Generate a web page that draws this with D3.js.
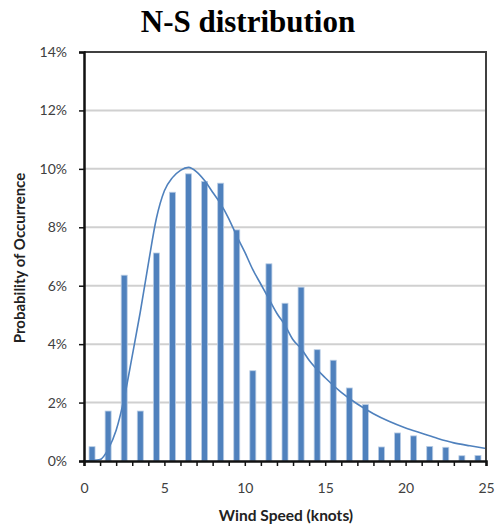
<!DOCTYPE html>
<html><head><meta charset="utf-8">
<script src="https://cdn.jsdelivr.net/npm/d3@7"></script>
<style>body{margin:0;background:#fff;}</style>
</head><body>
<svg id="chart" width="496" height="529"></svg>
<script>
// Bar data: wind speed bins (centre of each 1-knot bin) and probability (%)
const binCenters = [0.5,1.5,2.5,3.5,4.5,5.5,6.5,7.5,8.5,9.5,10.5,11.5,12.5,13.5,14.5,15.5,16.5,17.5,18.5,19.5,20.5,21.5,22.5,23.5,24.5];
const probabilities = [0.49,1.71,6.36,1.71,7.12,9.2,9.83,9.57,9.51,7.91,3.09,6.75,5.4,5.95,3.81,3.45,2.5,1.93,0.48,0.96,0.86,0.5,0.47,0.18,0.19];
// Fitted curve
const curveX = [0,1,1.5,2,2.5,3,3.5,4,4.5,5,5.5,6,6.5,7,7.5,8,8.5,9,9.5,10,10.5,11,11.5,12,12.5,13,13.5,14,15,16,17,18,19,20,21,22,23,24,25];
const curveY = [0,0.05,0.4,1.05,2.15,3.6,5.1,6.75,8.3,9.25,9.7,9.95,10.05,9.9,9.6,9.2,8.8,8.3,7.7,7.15,6.55,6.05,5.55,5.05,4.65,4.15,3.85,3.45,2.85,2.35,1.95,1.62,1.35,1.13,0.95,0.77,0.62,0.52,0.43];
const xTicks = [0,5,10,15,20,25];
const yTicks = [0,2,4,6,8,10,12,14];
const titleText = "N-S distribution";
const xTitle = "Wind Speed (knots)";
const yTitle = "Probability of Occurrence";

const svg = d3.select("#chart");
const L = 84, R = 486, T = 52, B = 461;
const x = d3.scaleLinear().domain([0,25]).range([L,R]);
const y = d3.scaleLinear().domain([0,14]).range([B,T]);
const blue = "#4f81bd";
const labelFont = "Lato, 'Open Sans', sans-serif";

svg.append("text").attr("x",248).attr("y",32).attr("text-anchor","middle")
  .attr("font-family","'Liberation Serif','DejaVu Serif',serif").attr("font-weight","bold")
  .attr("font-size",31).attr("fill","#000").text(titleText);

// gridlines
svg.append("g").selectAll("line").data(yTicks.filter(d=>d>0 && d<14)).join("line")
  .attr("x1",L).attr("x2",R).attr("y1",d=>y(d)).attr("y2",d=>y(d))
  .attr("stroke","#d0d0d0").attr("stroke-width",2);

// bars
const bw = 6;
svg.append("g").selectAll("rect").data(binCenters).join("rect")
  .attr("x",(d)=>x(d)-bw/2).attr("width",bw)
  .attr("y",(d,i)=>y(probabilities[i])).attr("height",(d,i)=>B-y(probabilities[i]))
  .attr("fill",blue).attr("stroke","#b9cde5").attr("stroke-width",0.8);

// curve
const pts = curveX.map((d,i)=>[d,curveY[i]]);
svg.append("path").datum(pts)
  .attr("d",d3.line().x(d=>x(d[0])).y(d=>y(d[1])).curve(d3.curveMonotoneX))
  .attr("fill","none").attr("stroke",blue).attr("stroke-width",1.6);

// frame top/right
svg.append("path").attr("d",`M${L},${T}H${R}V${B}`).attr("fill","none")
  .attr("stroke","#404040").attr("stroke-width",2);

// axes
const yAxis = d3.axisLeft(y).tickValues(yTicks).tickFormat(d=>d+"%").tickSize(5).tickPadding(12);
const gy = svg.append("g").attr("transform",`translate(${L},0)`).call(yAxis);
const xAxis = d3.axisBottom(x).tickValues(d3.range(0,26)).tickFormat(d=>xTicks.includes(d)?d:"").tickSize(5).tickPadding(17);
const gx = svg.append("g").attr("transform",`translate(0,${B})`).call(xAxis);
[gx,gy].forEach(g=>{
  g.select(".domain").attr("stroke","#111").attr("stroke-width",2.5);
  g.selectAll(".tick line").attr("stroke","#111").attr("stroke-width",1.5);
  g.selectAll(".tick text").attr("font-family",labelFont).attr("font-size",14).attr("fill","#404040");
});

svg.append("text").attr("x",286).attr("y",521).attr("text-anchor","middle")
  .attr("font-family",labelFont).attr("font-weight","bold").attr("font-size",15.5)
  .attr("fill","#222").text(xTitle);
svg.append("text").attr("transform","translate(25,258) rotate(-90)").attr("text-anchor","middle")
  .attr("font-family",labelFont).attr("font-weight","bold").attr("font-size",15)
  .attr("fill","#222").text(yTitle);
</script>
</body></html>
